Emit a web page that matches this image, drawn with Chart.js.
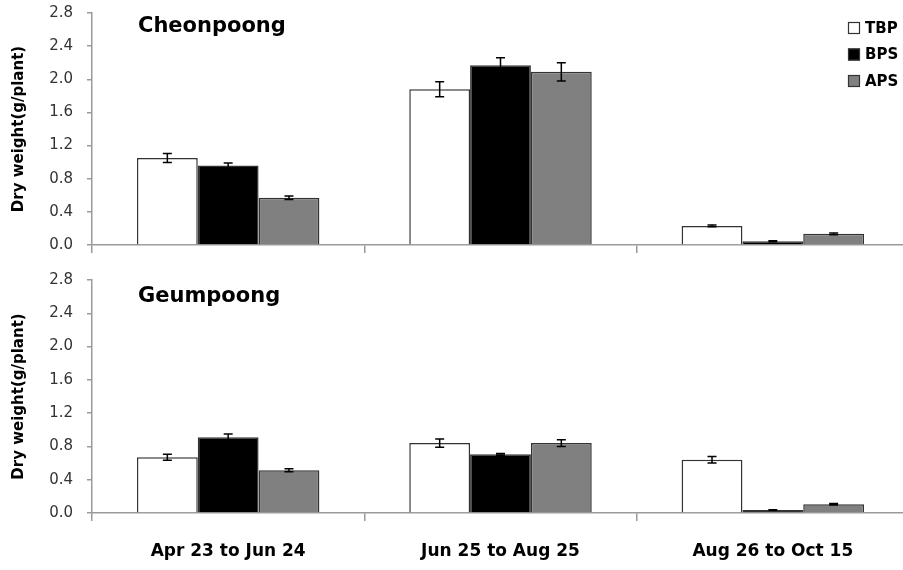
<!DOCTYPE html>
<html lang="en">
<head>
    <meta charset="UTF-8">
    <title>Dry weight</title>
    <script src="https://cdn.jsdelivr.net/npm/chart.js@4"></script>
    <style>
        body {
            margin: 0;
            background: #fff;
            overflow: hidden;
            width: 903px;
            height: 570px;
        }
        .panel {
            position: absolute;
            left: 0;
        }
    </style>
</head>
<body>
    <div class="panel" style="top:0"><canvas id="topChart" width="912" height="260"></canvas></div>
    <div class="panel" style="top:260px"><canvas id="bottomChart" width="912" height="310"></canvas></div>

    <script>
        const periods = ['Apr 23 to Jun 24', 'Jun 25 to Aug 25', 'Aug 26 to Oct 15'];
        const treatments = ['TBP', 'BPS', 'APS'];
        const yTicks = [0, 0.4, 0.8, 1.2, 1.6, 2.0, 2.4, 2.8];

        // Cheonpoong
        const cheonTBP = [1.05, 1.88, 0.23];
        const cheonBPS = [0.96, 2.17, 0.045];
        const cheonAPS = [0.57, 2.09, 0.135];
        const cheonTBPErr = [0.055, 0.09, 0.01];
        const cheonBPSErr = [0.03, 0.09, 0.005];
        const cheonAPSErr = [0.02, 0.11, 0.01];

        // Geumpoong
        const geumTBP = [0.67, 0.84, 0.64];
        const geumBPS = [0.91, 0.705, 0.036];
        const geumAPS = [0.515, 0.84, 0.105];
        const geumTBPErr = [0.035, 0.05, 0.038];
        const geumBPSErr = [0.04, 0.01, 0.004];
        const geumAPSErr = [0.018, 0.04, 0.008];

        const fills = ['#ffffff', '#000000', '#808080'];
        const axisGray = '#9a9a9a';

        // error bars drawn from each bar's own position
        const errorBars = {
            id: 'errorBars',
            afterDatasetsDraw(chart) {
                const ctx = chart.ctx;
                const y = chart.scales.y;
                ctx.save();
                ctx.strokeStyle = '#000';
                ctx.lineWidth = 1.5;
                chart.data.datasets.forEach((ds, di) => {
                    const meta = chart.getDatasetMeta(di);
                    meta.data.forEach((bar, i) => {
                        const v = ds.data[i], e = ds.errors[i];
                        const yTop = y.getPixelForValue(v + e);
                        const yBot = y.getPixelForValue(v - e);
                        ctx.beginPath();
                        ctx.moveTo(bar.x, yTop); ctx.lineTo(bar.x, yBot);
                        ctx.moveTo(bar.x - 4.5, yTop); ctx.lineTo(bar.x + 4.5, yTop);
                        ctx.moveTo(bar.x - 4.5, yBot); ctx.lineTo(bar.x + 4.5, yBot);
                        ctx.stroke();
                    });
                });
                ctx.restore();
            }
        };

        const panelTitle = {
            id: 'panelTitle',
            afterDraw(chart, args, opts) {
                const ctx = chart.ctx;
                ctx.save();
                ctx.font = 'bold 21px "DejaVu Sans", sans-serif';
                ctx.fillStyle = '#000';
                ctx.textBaseline = 'alphabetic';
                ctx.fillText(opts.text, chart.chartArea.left + 46, chart.chartArea.top + opts.dy);
                ctx.restore();
            }
        };

        const boxLegend = {
            id: 'boxLegend',
            afterDraw(chart, args, opts) {
                if (!opts.show) return;
                const ctx = chart.ctx;
                ctx.save();
                ctx.font = 'bold 15px "DejaVu Sans", sans-serif';
                ctx.textBaseline = 'middle';
                chart.data.datasets.forEach((ds, i) => {
                    const top = 22 + i * 26.5;
                    ctx.fillStyle = ds.backgroundColor;
                    ctx.fillRect(848, top, 12, 12);
                    ctx.strokeStyle = '#333';
                    ctx.lineWidth = 1.2;
                    ctx.strokeRect(848.5, top + 0.5, 11, 11);
                    ctx.fillStyle = '#000';
                    ctx.fillText(ds.label, 865, top + 7);
                });
                ctx.restore();
            }
        };

        function makeChart(id, series, errors, title, opts) {
            const ctx = document.getElementById(id).getContext('2d');
            return new Chart(ctx, {
                type: 'bar',
                data: {
                    labels: periods,
                    datasets: treatments.map((t, i) => ({
                        label: t,
                        data: series[i],
                        errors: errors[i],
                        backgroundColor: fills[i],
                        borderColor: '#333',
                        borderWidth: 1.5,
                        barPercentage: 1.0,
                        categoryPercentage: 0.67
                    }))
                },
                options: {
                    responsive: false,
                    devicePixelRatio: 1,
                    animation: false,
                    layout: { padding: { top: opts.padTop, right: 3, left: 0, bottom: 0 } },
                    plugins: {
                        legend: { display: false },
                        tooltip: { enabled: false },
                        panelTitle: { text: title, dy: opts.titleDy },
                        boxLegend: { show: opts.legend }
                    },
                    scales: {
                        x: {
                            offset: true,
                            border: { color: axisGray, width: 1.5 },
                            grid: { offset: true, drawOnChartArea: false, drawTicks: true, tickLength: 8, color: axisGray, lineWidth: 1.5 },
                            ticks: {
                                display: opts.xLabels,
                                padding: 20,
                                color: '#000',
                                font: { family: '"DejaVu Sans", sans-serif', size: 17, weight: 'bold' }
                            },
                            afterFit: s => { s.height = opts.xHeight; s.paddingLeft = 0; s.paddingRight = 0; }
                        },
                        y: {
                            min: 0,
                            max: 2.8,
                            afterBuildTicks: s => { s.ticks = yTicks.map(v => ({ value: v })); },
                            border: { color: axisGray, width: 1.5 },
                            grid: { drawOnChartArea: false, drawTicks: true, tickLength: 5, color: axisGray, lineWidth: 1.5 },
                            ticks: {
                                padding: 14,
                                color: '#333',
                                font: { family: '"DejaVu Sans", sans-serif', size: 15 },
                                callback: v => v.toFixed(1)
                            },
                            title: {
                                display: true,
                                text: 'Dry weight(g/plant)',
                                color: '#000',
                                padding: { top: 10, bottom: 0 },
                                font: { family: '"DejaVu Sans", sans-serif', size: 15, weight: 'bold' }
                            },
                            afterFit: s => { s.width = 92; s.paddingTop = 0; s.paddingBottom = 0; }
                        }
                    }
                },
                plugins: [errorBars, panelTitle, boxLegend]
            });
        }

        makeChart('topChart',
            [cheonTBP, cheonBPS, cheonAPS],
            [cheonTBPErr, cheonBPSErr, cheonAPSErr],
            'Cheonpoong',
            { padTop: 13, xHeight: 15, xLabels: false, titleDy: 19, legend: true });

        makeChart('bottomChart',
            [geumTBP, geumBPS, geumAPS],
            [geumTBPErr, geumBPSErr, geumAPSErr],
            'Geumpoong',
            { padTop: 20, xHeight: 57, xLabels: true, titleDy: 22, legend: false });
    </script>
</body>
</html>
